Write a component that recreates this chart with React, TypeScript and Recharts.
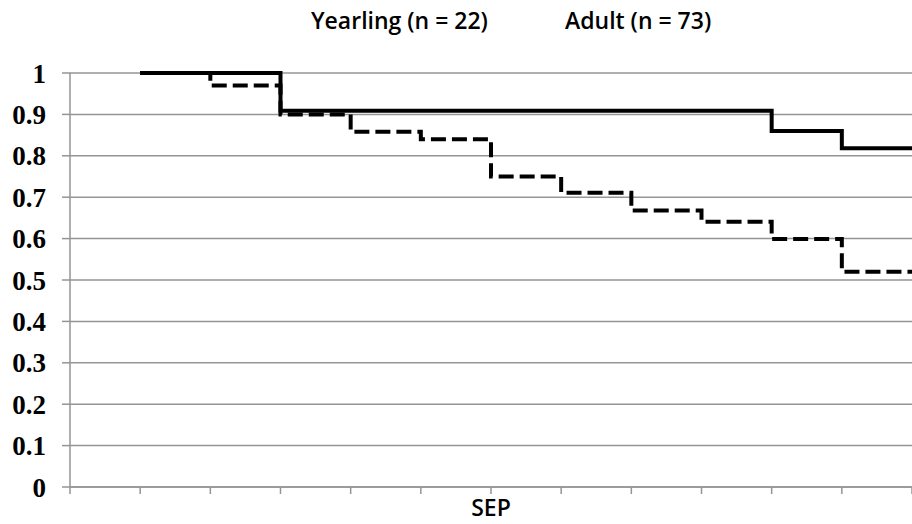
import React from 'react';
import { LineChart, Line, XAxis, YAxis, CartesianGrid, Legend } from 'recharts';

// survival per period (Kaplan-Meier style step curves)
const periods = [1, 2, 3, 4, 5, 6, 7, 8, 9, 10, 11, 12];
const yearlingSurvival = [1, 1, 0.909, 0.909, 0.909, 0.909, 0.909, 0.909, 0.909, 0.86, 0.818, 0.818];
const adultSurvival = [1, 0.97, 0.9, 0.858, 0.84, 0.75, 0.711, 0.668, 0.641, 0.599, 0.52, 0.52];

const seriesNames = ['Yearling (n = 22)', 'Adult (n = 73)'];

const xTicks = [0, 1, 2, 3, 4, 5, 6, 7, 8, 9, 10, 11, 12];
const xTickLabels: Record<number, string> = { 6: 'SEP' };
const yTicks = [0, 0.1, 0.2, 0.3, 0.4, 0.5, 0.6, 0.7, 0.8, 0.9, 1];

const chartData = periods.map((t, i) => ({
  t,
  yearling: yearlingSurvival[i],
  adult: adultSurvival[i],
}));

const GRID = '#959595';

const renderLegend = (props: any) => {
  // keep series order, not alphabetical
  const items = [...(props.payload || [])].sort(
    (a: any, b: any) => seriesNames.indexOf(a.value) - seriesNames.indexOf(b.value)
  );
  return (
    <div
      style={{
        display: 'flex',
        fontFamily: '"Open Sans", sans-serif',
        fontWeight: 600,
        fontSize: 23,
        lineHeight: '31px',
        color: '#000',
        whiteSpace: 'nowrap',
      }}
    >
      {items.map((entry: any, i: number) => (
        <span key={entry.value} style={{ display: 'inline-block', width: i === 0 ? 254 : 'auto' }}>
          {entry.value}
        </span>
      ))}
    </div>
  );
};

export default function App() {
  return (
    <div style={{ position: 'absolute', left: 0, top: 0, width: 912, height: 524, background: '#fff' }}>
      <LineChart
        width={912}
        height={524}
        data={chartData}
        margin={{ top: 73, right: 0, bottom: 0, left: 0 }}
      >
        <CartesianGrid vertical={false} stroke={GRID} strokeWidth={1.5} />
        <XAxis
          dataKey="t"
          type="number"
          domain={[0, 12]}
          ticks={xTicks}
          interval={0}
          height={37}
          stroke={GRID}
          strokeWidth={1.5}
          tickSize={7}
          tickMargin={6}
          tickFormatter={(v: number) => xTickLabels[v] || ''}
          tick={{ fill: '#000', fontSize: 23, fontWeight: 600, fontFamily: '"Open Sans", sans-serif' }}
        />
        <YAxis
          domain={[0, 1]}
          ticks={yTicks}
          interval={0}
          width={70}
          stroke={GRID}
          strokeWidth={1.5}
          tickSize={8}
          tickMargin={16}
          tick={{ fill: '#000', fontSize: 27, fontWeight: 700, fontFamily: '"Liberation Serif", serif' }}
        />
        <Legend
          content={renderLegend}
          layout="horizontal"
          verticalAlign="middle"
          align="center"
          wrapperStyle={{ top: 5, left: 311, width: 500 }}
        />
        <Line
          name={seriesNames[0]}
          dataKey="yearling"
          type="stepAfter"
          stroke="#000"
          strokeWidth={4}
          dot={false}
          activeDot={false}
          isAnimationActive={false}
        />
        <Line
          name={seriesNames[1]}
          dataKey="adult"
          type="stepAfter"
          stroke="#000"
          strokeWidth={4}
          strokeDasharray="15 6"
          dot={false}
          activeDot={false}
          isAnimationActive={false}
        />
      </LineChart>
    </div>
  );
}
